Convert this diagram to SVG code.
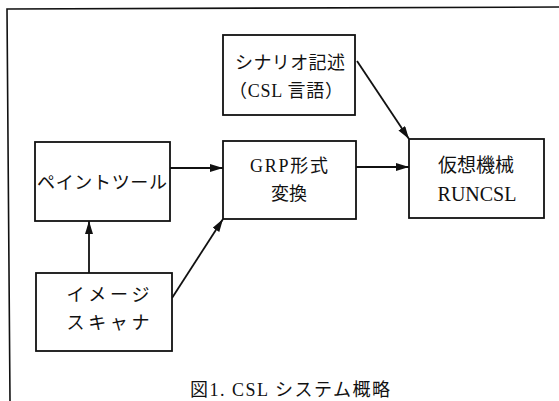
<svg xmlns="http://www.w3.org/2000/svg" width="559" height="401" viewBox="0 0 559 401">
<style>
.box{fill:#fff;stroke:#111;stroke-width:1.8}
.t{font-family:"Liberation Serif","Noto Sans CJK JP",serif;font-size:18px;fill:#111;text-anchor:middle}
.c{stroke:#111;stroke-width:1.8;fill:none;marker-end:url(#ah)}
</style>
<defs>
<marker id="ah" markerUnits="userSpaceOnUse" markerWidth="14" markerHeight="10" refX="13" refY="4" orient="auto">
<path d="M0,0 L13,4 L0,8 Z" fill="#111"/>
</marker>
</defs>
<rect width="559" height="401" fill="#fff"/>
<polyline points="10,401 7,9 559,7" fill="none" stroke="#111" stroke-width="1.6"/>
<g id="connectors">
<line class="c" x1="357" y1="61" x2="409" y2="139"/>
<line class="c" x1="170" y1="168" x2="223" y2="168"/>
<line class="c" x1="356" y1="167" x2="409" y2="167"/>
<line class="c" x1="89" y1="273" x2="89" y2="221"/>
<line class="c" x1="172" y1="298" x2="223" y2="219"/>
</g>
<g id="scenario">
<rect class="box" x="223" y="35" width="132" height="80"/>
<text class="t" x="290" y="69" textLength="110">シナリオ記述</text>
<text class="t" x="286" y="97" textLength="114">（CSL 言語）</text>
</g>
<g id="paint">
<rect class="box" x="35" y="142" width="135" height="79"/>
<text class="t" x="102" y="189" textLength="130">ペイントツール</text>
</g>
<g id="grp">
<rect class="box" x="223" y="141" width="133" height="78"/>
<text class="t" x="289" y="172" textLength="78">GRP形式</text>
<text class="t" x="289" y="200">変換</text>
</g>
<g id="runcsl">
<rect class="box" x="409" y="139" width="135" height="79"/>
<text class="t" x="476" y="172" style="font-size:19px">仮想機械</text>
<text class="t" x="477" y="201" style="font-size:20px">RUNCSL</text>
</g>
<g id="scanner">
<rect class="box" x="36" y="273" width="136" height="78"/>
<text class="t" x="108" y="301" textLength="83">イメージ</text>
<text class="t" x="108" y="329" textLength="83">スキャナ</text>
</g>
<g id="caption">
<text class="t" x="290" y="396" textLength="200">図1. CSL システム概略</text>
</g>
</svg>
